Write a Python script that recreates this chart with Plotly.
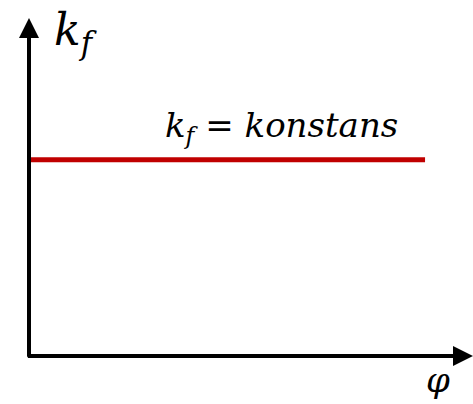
import plotly.graph_objects as go

# data
phi = [0.0, 0.892]
kf = [0.551, 0.551]
x_label = "φ"
y_label = "<i>k</i><sub><i>f</i></sub>"
line_label = "<i>k</i><sub><i>f</i></sub> = <i>konstans</i>"

W, H = 473, 404
L, B = 29, 48
PW, PH = W - L, H - B


def px(xs):
    return (xs - 29) / PW


def py(ys):
    return (356 - ys) / PH


fig = go.Figure()
fig.add_trace(go.Scatter(x=phi, y=kf, mode="lines",
                         line=dict(color="#C00000", width=5), hoverinfo="skip"))

font = "DejaVu Serif"
# axes arrows
fig.add_annotation(x=1.0, y=0, ax=-0.006, ay=0, xref="x", yref="y", axref="x", ayref="y",
                   showarrow=True, arrowhead=2, arrowsize=1, arrowwidth=4, arrowcolor="black", text="")
fig.add_annotation(x=0, y=py(18), ax=0, ay=-0.006, xref="x", yref="y", axref="x", ayref="y",
                   showarrow=True, arrowhead=2, arrowsize=1, arrowwidth=4, arrowcolor="black", text="")

fig.add_annotation(x=px(281), y=py(127), xref="paper", yref="paper",
                   xanchor="center", yanchor="middle",
                   text=line_label, showarrow=False,
                   font=dict(family=font, size=34, color="black"))
fig.add_annotation(x=px(75), y=py(33), xref="paper", yref="paper",
                   xanchor="center", yanchor="middle",
                   text=y_label, showarrow=False,
                   font=dict(family=font, size=44, color="black"))
fig.add_annotation(x=px(438), y=py(380), xref="paper", yref="paper",
                   xanchor="center", yanchor="middle",
                   text="<i>" + x_label + "</i>", showarrow=False,
                   font=dict(family=font, size=34, color="black"))

fig.update_layout(width=W, height=H, margin=dict(l=L, r=0, t=0, b=B, autoexpand=False),
                  font=dict(family=font),
                  plot_bgcolor="white", paper_bgcolor="white", showlegend=False,
                  xaxis=dict(range=[0, 1], visible=False, fixedrange=True),
                  yaxis=dict(range=[0, 1], visible=False, fixedrange=True))
fig.write_html("out.html", config={"displayModeBar": False},
               post_script="document.body.style.margin='0';")
